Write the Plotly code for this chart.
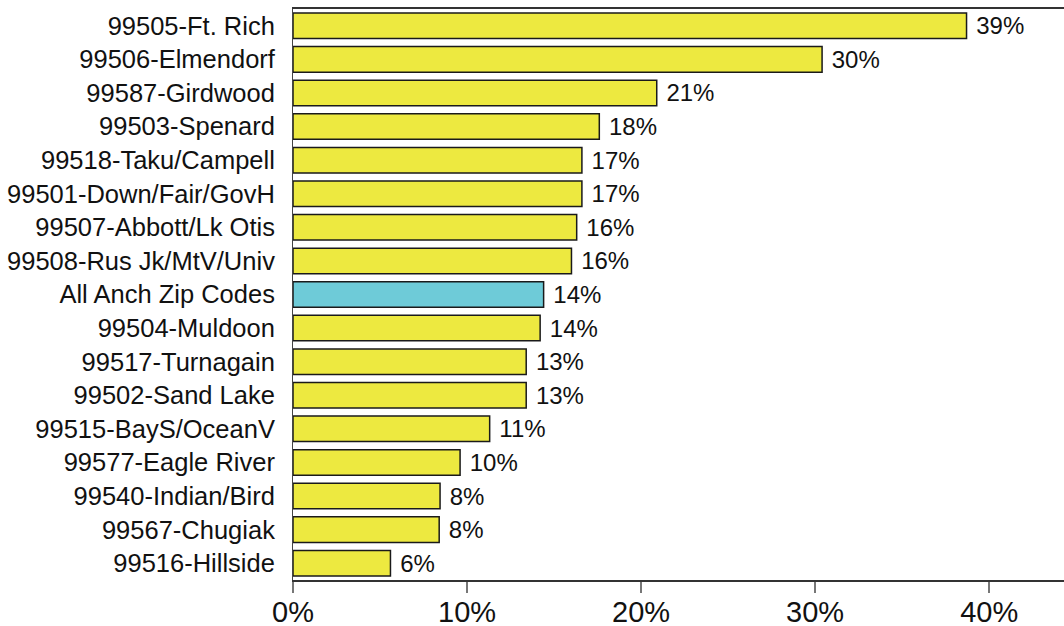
import plotly.graph_objects as go

categories = [
    "99505-Ft. Rich", "99506-Elmendorf", "99587-Girdwood", "99503-Spenard",
    "99518-Taku/Campell", "99501-Down/Fair/GovH", "99507-Abbott/Lk Otis",
    "99508-Rus Jk/MtV/Univ", "All Anch Zip Codes", "99504-Muldoon",
    "99517-Turnagain", "99502-Sand Lake", "99515-BayS/OceanV",
    "99577-Eagle River", "99540-Indian/Bird", "99567-Chugiak", "99516-Hillside",
]
values = [38.7, 30.4, 20.9, 17.6, 16.6, 16.6, 16.3, 16.0, 14.4, 14.2,
          13.4, 13.4, 11.3, 9.6, 8.45, 8.4, 5.6]
highlight = "All Anch Zip Codes"
tick_vals = [0, 10, 20, 30, 40]
tick_text = ["0%", "10%", "20%", "30%", "40%"]

colors = ["#6ECBD8" if c == highlight else "#EDE940" for c in categories]

fig = go.Figure(go.Bar(
    x=values, y=categories, orientation="h",
    marker=dict(color=colors, line=dict(color="#1a1a1a", width=1.5)),
    texttemplate="\u00a0%{x:.0f}%", textposition="outside",
    textfont=dict(family="Liberation Sans, Arial", size=24, color="#111"),
    constraintext="none",
    cliponaxis=False,
))

fig.update_layout(
    width=1064, height=626,
    margin=dict(l=293, r=0, t=9, b=46),
    paper_bgcolor="white", plot_bgcolor="white",
    bargap=0.24,
    showlegend=False,
    font=dict(family="Liberation Sans, Arial", color="#111"),
)
fig.update_xaxes(
    range=[0, 44.3], tickvals=tick_vals, ticktext=tick_text,
    tickfont=dict(size=29), showgrid=False, zeroline=False,
    showline=True, linecolor="#333", linewidth=2, mirror=True,
    ticks="outside", ticklen=11, tickcolor="#777", tickwidth=1.5,
    ticklabelstandoff=-6, automargin=False,
)
fig.update_yaxes(
    autorange="reversed", tickfont=dict(size=25.5),
    showgrid=False, zeroline=False, showline=True, linecolor="#444", linewidth=1,
    ticks="", ticklabelstandoff=12, automargin=False,
)

fig.write_html("out.html", config={"displayModeBar": False},
               post_script="document.body.style.margin='0';")
